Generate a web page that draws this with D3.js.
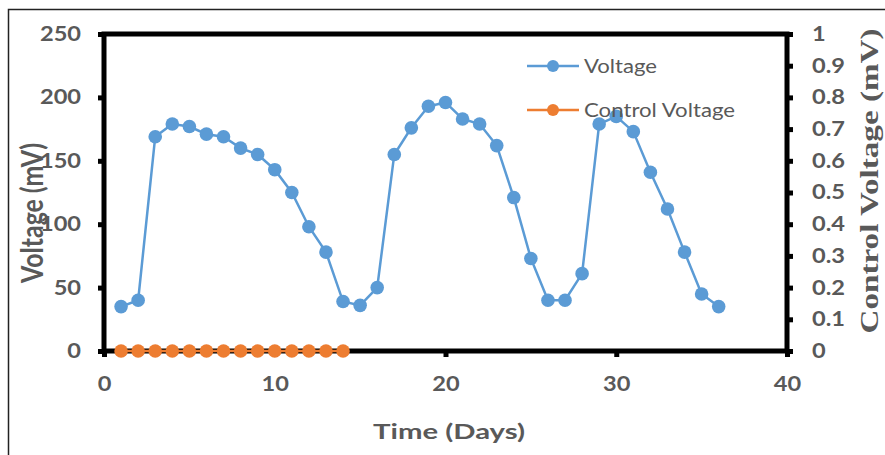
<!DOCTYPE html>
<meta charset="utf-8">
<title>Voltage over time</title>
<script src="https://d3js.org/d3.v7.min.js"></script>
<style>
  body { margin: 0; background: #fff; }
  text { fill: #595959; }
</style>
<body>
<svg id="container" width="885" height="455"></svg>
</body>
<script>
// data
const days = d3.range(1, 37)
const voltage = [35, 40, 169, 179, 177, 171, 169, 160, 155, 143, 125, 98,
                 78, 39, 36, 50, 155, 176, 193, 196, 183, 179, 162, 121,
                 73, 40, 40, 61, 179, 185, 173, 141, 112, 78, 45, 35]
const controlDays = d3.range(1, 15)
const controlVoltage = controlDays.map(() => 0)
const xTicks = [0, 10, 20, 30, 40]
const yTicks = [0, 50, 100, 150, 200, 250]
const y2Ticks = d3.range(0, 11).map(i => i / 10)

const svg = d3.select("#container")
const plotL = 104, plotR = 787, plotT = 34, plotB = 351
const sx = 1.18   // the source picture is a bit wider than tall

// outer frame (right and bottom fall outside the picture)
svg.append("rect")
    .attr("x", 8.5).attr("y", 9.5)
    .attr("width", 900).attr("height", 500)
    .attr("fill", "none").attr("stroke", "#222").attr("stroke-width", 1.5)

const x = d3.scaleLinear().domain([0, 40]).range([plotL, plotR])
const y = d3.scaleLinear().domain([0, 250]).range([plotB, plotT])
const y2 = d3.scaleLinear().domain([0, 1]).range([plotB, plotT])

const font = "Lato, 'Open Sans', sans-serif"

// axes
let gx = svg.append("g").attr("transform", `translate(0,${plotB})`)
    .call(d3.axisBottom(x).tickValues(xTicks).tickSize(6).tickPadding(20))
let gy = svg.append("g").attr("transform", `translate(${plotL},0)`)
    .call(d3.axisLeft(y).tickValues(yTicks).tickSize(6).tickPadding(17))
let gy2 = svg.append("g").attr("transform", `translate(${plotR},0)`)
    .call(d3.axisRight(y2).tickValues(y2Ticks).tickSize(6).tickPadding(19)
        .tickFormat(d => d3.format("")(+d.toFixed(1))))

for (const g of [gx, gy, gy2]) {
    g.select(".domain").remove()
    g.selectAll(".tick line").attr("stroke", "#000").attr("stroke-width", 5)
    g.selectAll(".tick text")
        .attr("font-family", font).attr("font-weight", "bold")
        .attr("font-size", 20).style("fill", "#595959")
        .attr("transform", `scale(${sx},1)`)
}
gx.selectAll(".tick text").attr("dy", "0.71em")
gy.selectAll(".tick text").attr("x", -23 / sx)
gy2.selectAll(".tick text").attr("x", 25 / sx)

// plot box
svg.append("rect")
    .attr("x", plotL).attr("y", plotT)
    .attr("width", plotR - plotL).attr("height", plotB - plotT)
    .attr("fill", "none").attr("stroke", "#000").attr("stroke-width", 5)

// voltage series
const line = d3.line().x(d => x(d[0])).y(d => y(d[1]))
const vData = d3.zip(days, voltage)
svg.append("path").datum(vData)
    .attr("d", line)
    .attr("fill", "none").attr("stroke", "#5B9BD5").attr("stroke-width", 2.5)
svg.selectAll("circle.v").data(vData).enter()
    .append("circle").attr("class", "v")
    .attr("cx", d => x(d[0])).attr("cy", d => y(d[1])).attr("r", 6.8)
    .attr("fill", "#5B9BD5")

// control voltage series (right axis)
const line2 = d3.line().x(d => x(d[0])).y(d => y2(d[1]))
const cData = d3.zip(controlDays, controlVoltage)
svg.append("path").datum(cData)
    .attr("d", line2)
    .attr("fill", "none").attr("stroke", "#ED7D31").attr("stroke-width", 2.5)
svg.selectAll("circle.c").data(cData).enter()
    .append("circle").attr("class", "c")
    .attr("cx", d => x(d[0])).attr("cy", d => y2(d[1])).attr("r", 6.8)
    .attr("fill", "#ED7D31")

// legend
const legend = [["Voltage", "#5B9BD5", 73], ["Control Voltage", "#ED7D31", 151]]
legend.forEach((d, i) => {
    const ly = 66 + i * 44
    svg.append("line").attr("x1", 527).attr("x2", 579).attr("y1", ly).attr("y2", ly)
        .attr("stroke", d[1]).attr("stroke-width", 2.5)
    svg.append("circle").attr("cx", 553).attr("cy", ly).attr("r", 6).attr("fill", d[1])
    svg.append("text").attr("x", 584).attr("y", ly + 7)
        .attr("font-family", font).attr("font-size", 18.5)
        .attr("textLength", d[2]).attr("lengthAdjust", "spacingAndGlyphs")
        .text(d[0])
})

// axis titles
svg.append("text")
    .attr("transform", `translate(43,213) scale(${sx},1) rotate(-90)`)
    .attr("text-anchor", "middle")
    .attr("font-family", font).attr("font-weight", "bold").attr("font-size", 25)
    .attr("textLength", 140).attr("lengthAdjust", "spacingAndGlyphs")
    .text("Voltage (mV)")
svg.append("text")
    .attr("x", 449).attr("y", 439)
    .attr("text-anchor", "middle")
    .attr("font-family", font).attr("font-weight", "bold").attr("font-size", 21)
    .attr("textLength", 152).attr("lengthAdjust", "spacingAndGlyphs")
    .text("Time (Days)")
svg.append("text")
    .attr("transform", `translate(878,181) scale(${sx},1) rotate(-90)`)
    .attr("text-anchor", "middle")
    .attr("font-family", "'Liberation Serif', 'Times New Roman', serif")
    .attr("font-weight", "bold").attr("font-size", 22)
    .attr("textLength", 305).attr("lengthAdjust", "spacingAndGlyphs")
    .text("Control Voltage (mV)")
</script>
